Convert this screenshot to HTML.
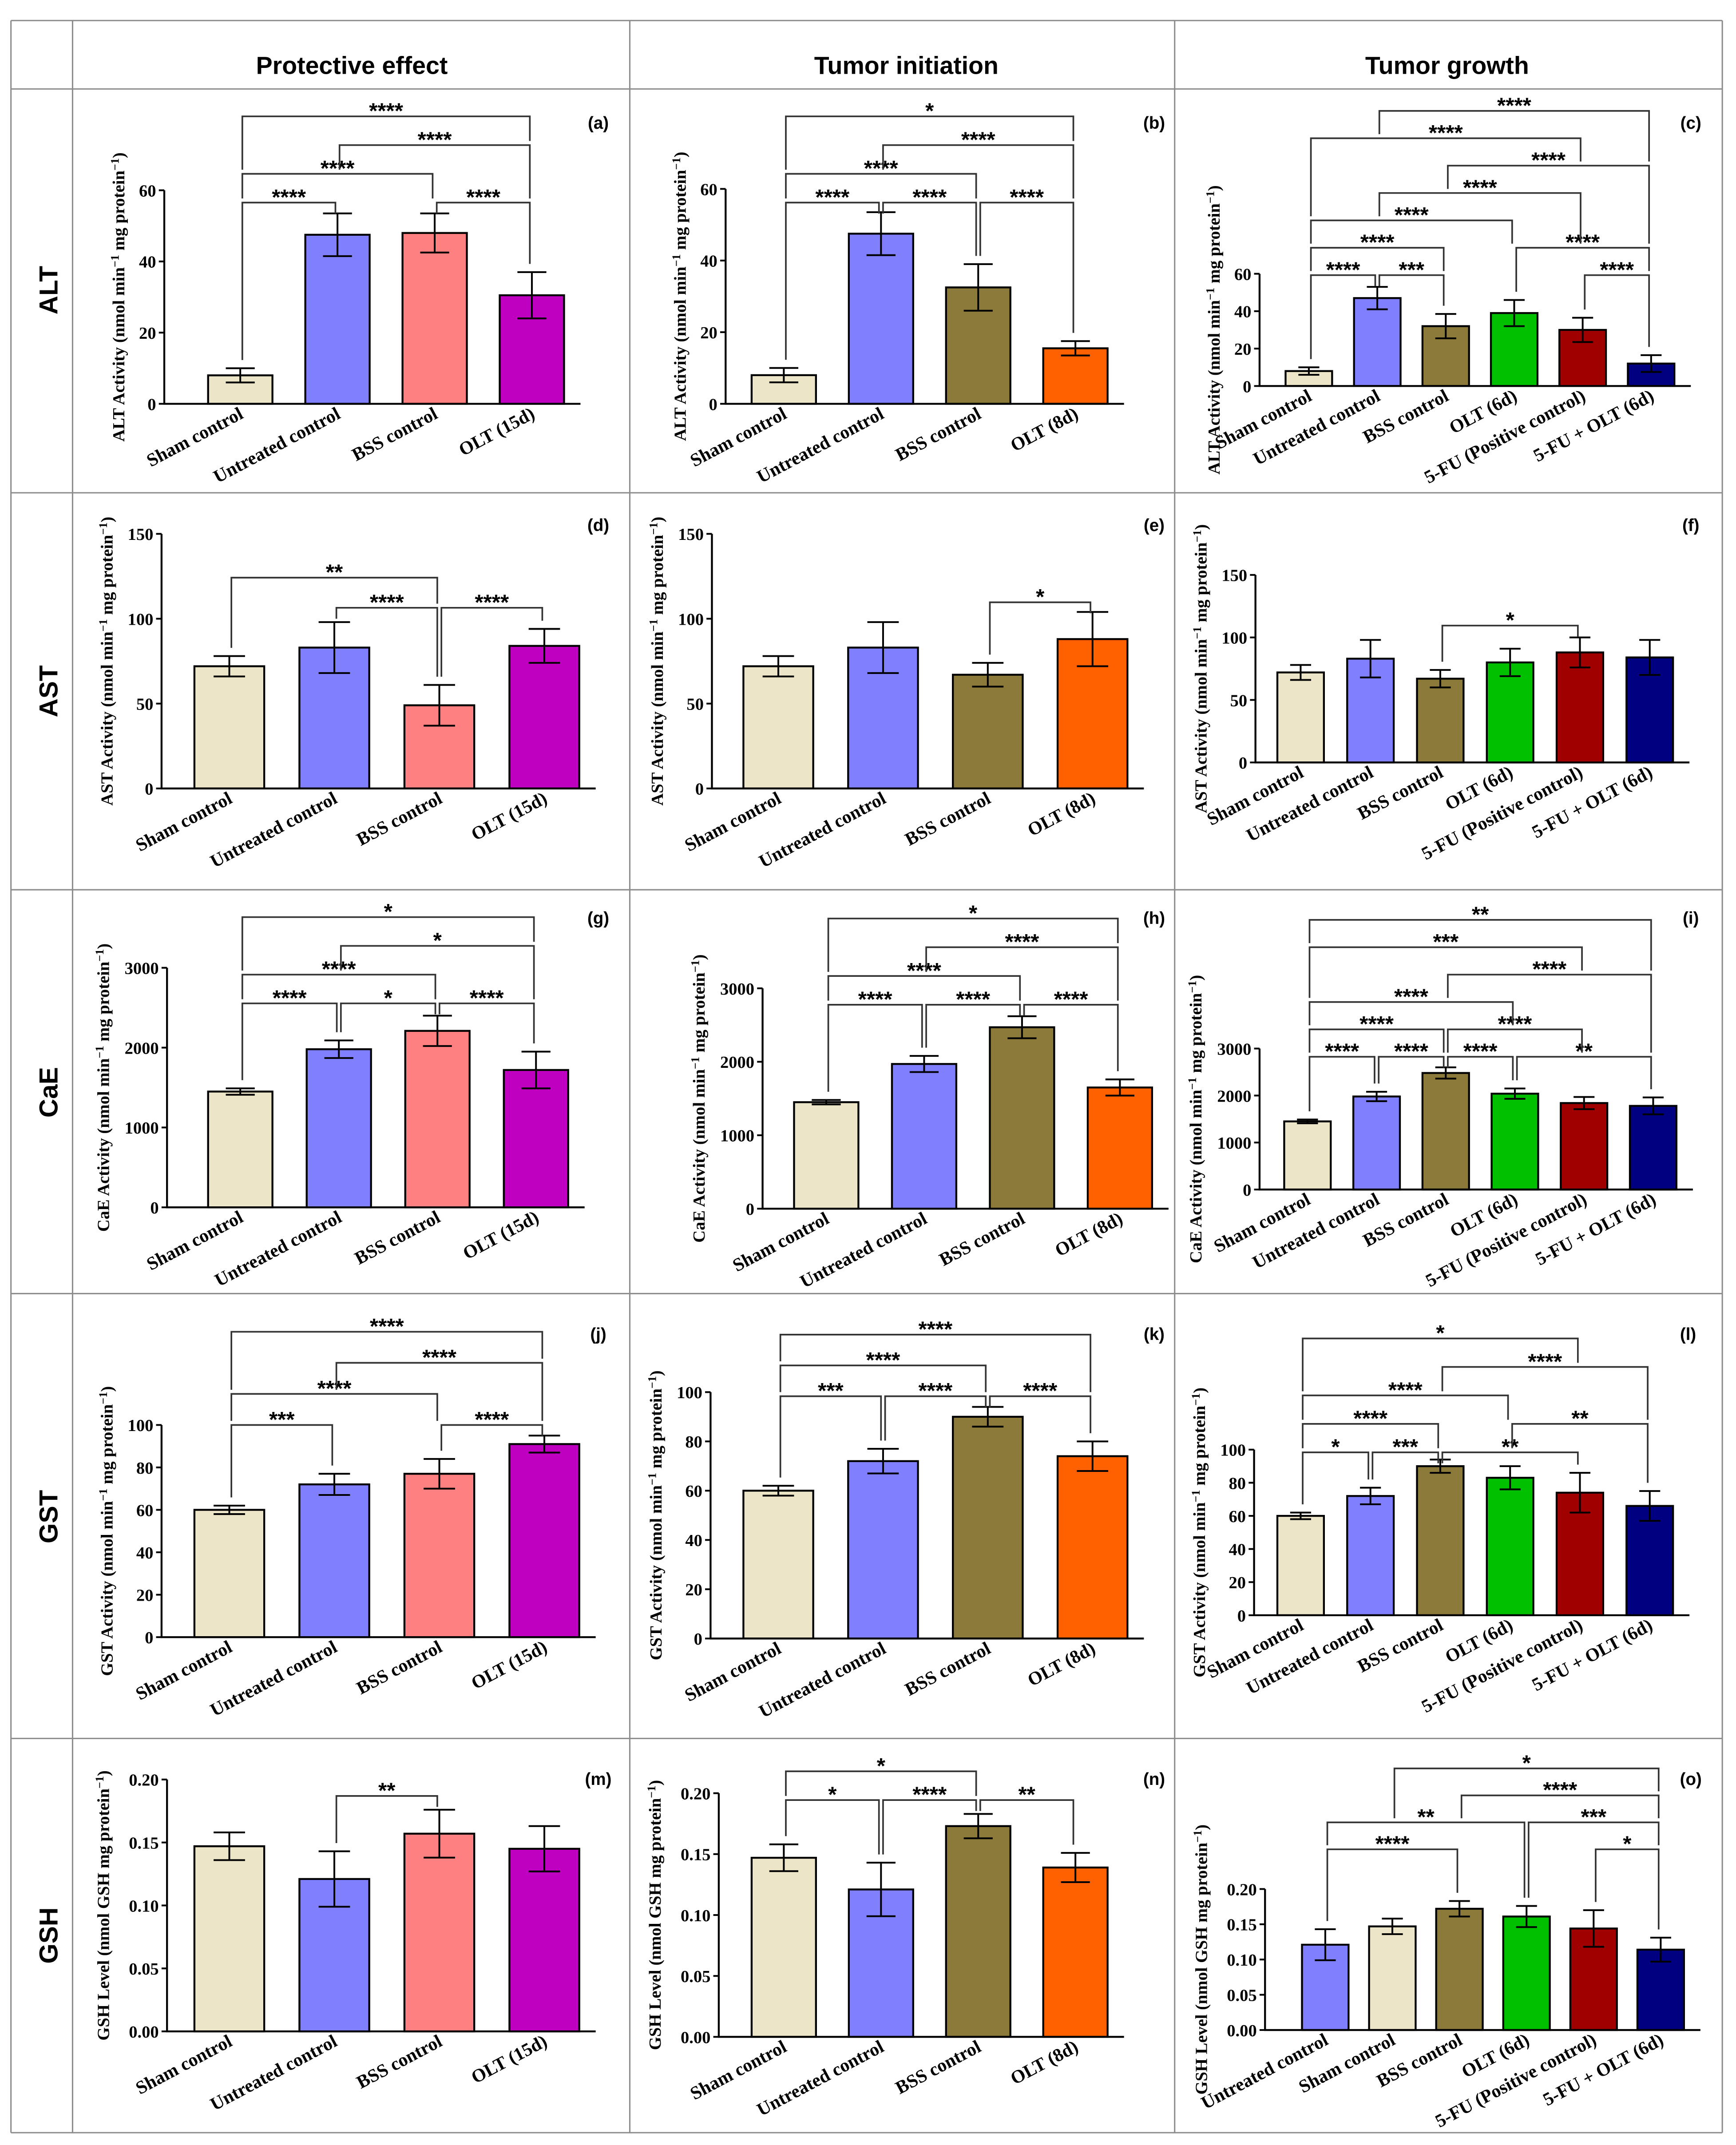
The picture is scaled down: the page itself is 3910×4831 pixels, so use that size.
<!DOCTYPE html>
<html><head><meta charset="utf-8"><style>
html,body{margin:0;padding:0;background:#fff;}
svg{display:block;}
</style></head><body>
<svg id="fig" xmlns="http://www.w3.org/2000/svg" width="3910" height="4831" viewBox="0 0 1268 1567" preserveAspectRatio="none"></svg>
<script>
// ---------- data ----------
const catsLeft = ["Sham control","Untreated control","BSS control","OLT (15d)"];
const catsMid = ["Sham control","Untreated control","BSS control","OLT (8d)"];
const catsRight = ["Sham control","Untreated control","BSS control","OLT (6d)","5-FU (Positive control)","5-FU + OLT (6d)"];
const catsRightGSH = ["Untreated control","Sham control","BSS control","OLT (6d)","5-FU (Positive control)","5-FU + OLT (6d)"];

const a_values = [8,47.5,48,30.5];        const a_errors = [2,6,5.5,6.5];
const b_values = [8,47.5,32.5,15.5];      const b_errors = [2,6,6.5,2];
const c_values = [8,47,32,39,30,12];      const c_errors = [2,6,6.5,7,6.5,4.5];
const d_values = [72,83,49,84];           const d_errors = [6,15,12,10];
const e_values = [72,83,67,88];           const e_errors = [6,15,7,16];
const f_values = [72,83,67,80,88,84];     const f_errors = [6,15,7,11,12,14];
const g_values = [1450,1980,2210,1720];   const g_errors = [40,110,190,230];
const h_values = [1450,1970,2470,1650];   const h_errors = [30,110,150,110];
const i_values = [1450,1980,2480,2040,1840,1780]; const i_errors = [40,100,120,110,130,180];
const j_values = [60,72,77,91];           const j_errors = [2,5,7,4];
const k_values = [60,72,90,74];           const k_errors = [2,5,4,6];
const l_values = [60,72,90,83,74,66];     const l_errors = [2,5,4,7,12,9];
const m_values = [0.147,0.121,0.157,0.145]; const m_errors = [0.011,0.022,0.019,0.018];
const n_values = [0.147,0.121,0.173,0.139]; const n_errors = [0.011,0.022,0.010,0.012];
const o_values = [0.121,0.147,0.172,0.161,0.144,0.114]; const o_errors = [0.022,0.011,0.011,0.015,0.026,0.017];

const ticksALT = [0,20,40,60];
const ticksAST = [0,50,100,150];
const ticksCaE = [0,1000,2000,3000];
const ticksGST = [0,20,40,60,80,100];
const ticksGSH = [0,0.05,0.10,0.15,0.20];

// significance: [from, to, level, stars]
const a_sig = [[0,1,0,'****'],[2,3,0,'****'],[0,2,1,'****'],[1,3,2,'****'],[0,3,3,'****']];
const b_sig = [[0,1,0,'****'],[1,2,0,'****'],[2,3,0,'****'],[0,2,1,'****'],[1,3,2,'****'],[0,3,3,'*']];
const c_sig = [[0,1,0,'****'],[1,2,0,'***'],[4,5,0,'****'],[0,2,1,'****'],[3,5,1,'****'],[0,3,2,'****'],[1,4,3,'****'],[2,5,4,'****'],[0,4,5,'****'],[1,5,6,'****']];
const d_sig = [[1,2,0,'****'],[2,3,0,'****'],[0,2,1,'**']];
const e_sig = [[2,3,0,'*']];
const f_sig = [[2,4,0,'*']];
const g_sig = [[0,1,0,'****'],[1,2,0,'*'],[2,3,0,'****'],[0,2,1,'****'],[1,3,2,'*'],[0,3,3,'*']];
const h_sig = [[0,1,0,'****'],[1,2,0,'****'],[2,3,0,'****'],[0,2,1,'****'],[1,3,2,'****'],[0,3,3,'*']];
const i_sig = [[0,1,0,'****'],[1,2,0,'****'],[2,3,0,'****'],[3,5,0,'**'],[0,2,1,'****'],[2,4,1,'****'],[0,3,2,'****'],[2,5,3,'****'],[0,4,4,'***'],[0,5,5,'**']];
const j_sig = [[0,1,0,'***'],[2,3,0,'****'],[0,2,1,'****'],[1,3,2,'****'],[0,3,3,'****']];
const k_sig = [[0,1,0,'***'],[1,2,0,'****'],[2,3,0,'****'],[0,2,1,'****'],[0,3,2,'****']];
const l_sig = [[0,1,0,'*'],[1,2,0,'***'],[2,4,0,'**'],[0,2,1,'****'],[3,5,1,'**'],[0,3,2,'****'],[2,5,3,'****'],[0,4,4,'*']];
const m_sig = [[1,2,0,'**']];
const n_sig = [[0,1,0,'*'],[1,2,0,'****'],[2,3,0,'**'],[0,2,1,'*']];
const o_sig = [[0,2,0,'****'],[4,5,0,'*'],[0,3,1,'**'],[3,5,1,'***'],[2,5,2,'****'],[1,5,3,'*']];

// ---------- colors ----------
const COL = {"Sham control":"#ede5c8","Untreated control":"#8080ff","OLT (15d)":"#c000c0","OLT (8d)":"#ff6000","OLT (6d)":"#00c000","5-FU (Positive control)":"#a00000","5-FU + OLT (6d)":"#000080"};

const svg = document.getElementById('fig');
const NS = 'http://www.w3.org/2000/svg';
function el(tag, attrs, parent){ const e=document.createElementNS(NS,tag); for(const k in attrs) e.setAttribute(k,attrs[k]); (parent||svg).appendChild(e); return e; }

// ---------- table grid ----------
const grid = el('g',{stroke:'#8c8c8c','stroke-width':1,fill:'none'});


[15,65,360,650,945,1270,1558].forEach(y=>el('line',{x1:8,x2:1258,y1:y,y2:y},grid));
[8,53,460,858,1258].forEach(x=>el('line',{x1:x,x2:x,y1:15,y2:1558},grid));

const heads=[["Protective effect",257],["Tumor initiation",662],["Tumor growth",1057]];
heads.forEach(h=>{ const t=el('text',{x:h[1],y:54,'text-anchor':'middle','font-family':'Liberation Sans, sans-serif','font-weight':'bold','font-size':18}); t.textContent=h[0];
 
  });
const rows=[["ALT",212],["AST",505],["CaE",798],["GST",1108],["GSH",1414]];
rows.forEach(r=>{ const t=el('text',{x:0,y:0,transform:`translate(42,${r[1]}) rotate(-90)`,'text-anchor':'middle','font-family':'Liberation Sans, sans-serif','font-weight':'bold','font-size':19}); t.textContent=r[0];
 
  });

// ---------- panel drawer ----------
function panel(p){
  const g = el('g',{});
  
  
  const ymax = p.ticks[p.ticks.length-1];
  const Y = v => p.y0 - (v/ymax)*(p.y0-p.ytop);
  const X = i => p.left + i*p.pitch + p.w/2;
  p.values.forEach((v,i)=>{
    const cat=p.cats[i];
    let fill = COL[cat]; if(cat==="BSS control") fill = p.bss;
    const r=el('rect',{x:X(i)-p.w/2,y:Y(v),width:p.w,height:p.y0-Y(v),fill:fill,stroke:'#000','stroke-width':1.4},g);
    
    
    const e=p.errors[i], cw=p.w*0.45;
    const eb=el('path',{d:`M${X(i)},${Y(v-e)}V${Y(v+e)}M${X(i)-cw/2},${Y(v+e)}h${cw}M${X(i)-cw/2},${Y(v-e)}h${cw}`,stroke:'#000','stroke-width':1.3,fill:'none'},g);
    
    
  });
  const right = p.left + (p.values.length-1)*p.pitch + p.w + 12;
  const ax=el('path',{d:`M${p.axis},${Y(ymax)}V${p.y0}H${right}`,stroke:'#000','stroke-width':1.4,fill:'none'},g);
  
  
  let maxChars = 0;
  p.ticks.forEach(t=>{
    el('line',{x1:p.axis-4,x2:p.axis,y1:Y(t),y2:Y(t),stroke:'#000','stroke-width':1.3},g);
    const tl=el('text',{x:p.axis-6,y:Y(t)+4.5,'text-anchor':'end','font-family':'Liberation Serif, serif','font-weight':'bold','font-size':12.5},g);
    tl.textContent = p.dec ? t.toFixed(2) : String(t);
    maxChars = Math.max(maxChars, tl.textContent.length);
    
    
  });
  p.cats.forEach((c,i)=>{
    const t=el('text',{transform:`translate(${X(i)+3},${p.y0+10}) rotate(-28)`,'text-anchor':'end','font-family':'Liberation Serif, serif','font-weight':'bold','font-size':13.5},g);
    t.textContent=c;
    
    
  });
  const off = 16 + maxChars*6.6;
  const yt=el('text',{transform:`translate(${p.axis-off},${(p.y0+Y(ymax))/2}) rotate(-90)`,'text-anchor':'middle','font-family':'Liberation Serif, serif','font-weight':'bold','font-size':12.5},g);
  yt.innerHTML = p.title;
  
  
  const pl=el('text',{x:p.lx,y:p.ly,'text-anchor':'middle','font-family':'Liberation Sans, sans-serif','font-weight':'bold','font-size':12.5},g);
  pl.textContent='('+p.id+')';
  
  
  const lvY = l => p.sig0 - l*p.sigStep;
  p.sig.forEach(s=>{
    const [a,b,l,txt]=s; const ly=lvY(l);
    function legEnd(k){
      let lim=null;
      p.sig.forEach(o=>{ if(o[2]<l && o[0]<=k && k<=o[1]){ const oy=lvY(o[2]); if(lim===null||oy<lim) lim=oy; } });
      if(lim!==null) return lim-3;
      return Math.max(ly+8, Y(p.values[k]+p.errors[k])-6);
    }
    const xa=X(a)+1.5, xb=X(b)-1.5;
    const br=el('path',{d:`M${xa},${legEnd(a)}V${ly}H${xb}V${legEnd(b)}`,stroke:'#333','stroke-width':1.2,fill:'none'},g);
    
    
    const st=el('text',{x:(X(a)+X(b))/2,y:ly+1.5,'text-anchor':'middle','font-family':'Liberation Sans, sans-serif','font-weight':'bold','font-size':16},g);
    st.textContent=txt;
    
    
  });
}
const sup='<tspan dy="-4" font-size="8.5">−1</tspan><tspan dy="4"> </tspan>';
const unit = `(nmol min${sup}mg protein<tspan dy="-4" font-size="8.5">−1</tspan><tspan dy="4">)</tspan>`;
const tALT='ALT Activity '+unit, tAST='AST Activity '+unit, tCaE='CaE Activity '+unit, tGST='GST Activity '+unit;
const tGSH='GSH Level (nmol GSH mg protein<tspan dy="-4" font-size="8.5">−1</tspan><tspan dy="4">)</tspan>';
const BSSP='#ff8080', BSSO='#8b7a3a';

panel({id:'a',cats:catsLeft,values:a_values,errors:a_errors,ticks:ticksALT,axis:120,y0:295,ytop:139,left:152,pitch:71,w:47,bss:BSSP,title:tALT,lx:437,ly:94,sig:a_sig,sig0:148,sigStep:21});
panel({id:'b',cats:catsMid,values:b_values,errors:b_errors,ticks:ticksALT,axis:530,y0:295,ytop:138,left:549,pitch:71,w:47,bss:BSSO,title:tALT,lx:843,ly:94,sig:b_sig,sig0:148,sigStep:21});
panel({id:'c',cats:catsRight,values:c_values,errors:c_errors,ticks:ticksALT,axis:920,y0:282,ytop:200,left:939,pitch:50,w:34,bss:BSSO,title:tALT,lx:1235,ly:94,sig:c_sig,sig0:201,sigStep:20});
panel({id:'d',cats:catsLeft,values:d_values,errors:d_errors,ticks:ticksAST,axis:118,y0:576,ytop:390,left:142,pitch:76.7,w:51,bss:BSSP,title:tAST,lx:437,ly:388,sig:d_sig,sig0:444,sigStep:22});
panel({id:'e',cats:catsMid,values:e_values,errors:e_errors,ticks:ticksAST,axis:520,y0:576,ytop:390,left:543,pitch:76.5,w:51,bss:BSSO,title:tAST,lx:843,ly:388,sig:e_sig,sig0:440,sigStep:22});
panel({id:'f',cats:catsRight,values:f_values,errors:f_errors,ticks:ticksAST,axis:917,y0:557,ytop:420,left:933,pitch:51,w:34,bss:BSSO,title:tAST,lx:1235,ly:388,sig:f_sig,sig0:457,sigStep:20});
panel({id:'g',cats:catsLeft,values:g_values,errors:g_errors,ticks:ticksCaE,axis:122,y0:882,ytop:707,left:152,pitch:72,w:47,bss:BSSP,title:tCaE,lx:437,ly:675,sig:g_sig,sig0:733,sigStep:21});
panel({id:'h',cats:catsMid,values:h_values,errors:h_errors,ticks:ticksCaE,axis:557,y0:883,ytop:722,left:580,pitch:71.5,w:47,bss:BSSO,title:tCaE,lx:843,ly:675,sig:h_sig,sig0:734,sigStep:21});
panel({id:'i',cats:catsRight,values:i_values,errors:i_errors,ticks:ticksCaE,axis:920,y0:869,ytop:766,left:938,pitch:50.5,w:34,bss:BSSO,title:tCaE,lx:1235,ly:675,sig:i_sig,sig0:772,sigStep:20});
panel({id:'j',cats:catsLeft,values:j_values,errors:j_errors,ticks:ticksGST,axis:118,y0:1196,ytop:1041,left:142,pitch:76.7,w:51,bss:BSSP,title:tGST,lx:437,ly:979,sig:j_sig,sig0:1041,sigStep:22.7});
panel({id:'k',cats:catsMid,values:k_values,errors:k_errors,ticks:ticksGST,axis:519,y0:1197,ytop:1017,left:543,pitch:76.5,w:51,bss:BSSO,title:tGST,lx:843,ly:979,sig:k_sig,sig0:1020,sigStep:22.5});
panel({id:'l',cats:catsRight,values:l_values,errors:l_errors,ticks:ticksGST,axis:916,y0:1180,ytop:1059,left:933,pitch:51,w:34,bss:BSSO,title:tGST,lx:1233,ly:979,sig:l_sig,sig0:1061,sigStep:20.8});
panel({id:'m',cats:catsLeft,values:m_values,errors:m_errors,ticks:ticksGSH,dec:true,axis:122,y0:1484,ytop:1300,left:142,pitch:76.7,w:51,bss:BSSP,title:tGSH,lx:437,ly:1304,sig:m_sig,sig0:1312,sigStep:21});
panel({id:'n',cats:catsMid,values:n_values,errors:n_errors,ticks:ticksGSH,dec:true,axis:525,y0:1488,ytop:1310,left:549,pitch:71,w:47,bss:BSSO,title:tGSH,lx:843,ly:1304,sig:n_sig,sig0:1315,sigStep:21});
panel({id:'o',cats:catsRightGSH,values:o_values,errors:o_errors,ticks:ticksGSH,dec:true,axis:924,y0:1483,ytop:1380,left:951,pitch:49,w:34,bss:BSSO,title:tGSH,lx:1235,ly:1304,sig:o_sig,sig0:1351,sigStep:19.7});
</script>
</body></html>
